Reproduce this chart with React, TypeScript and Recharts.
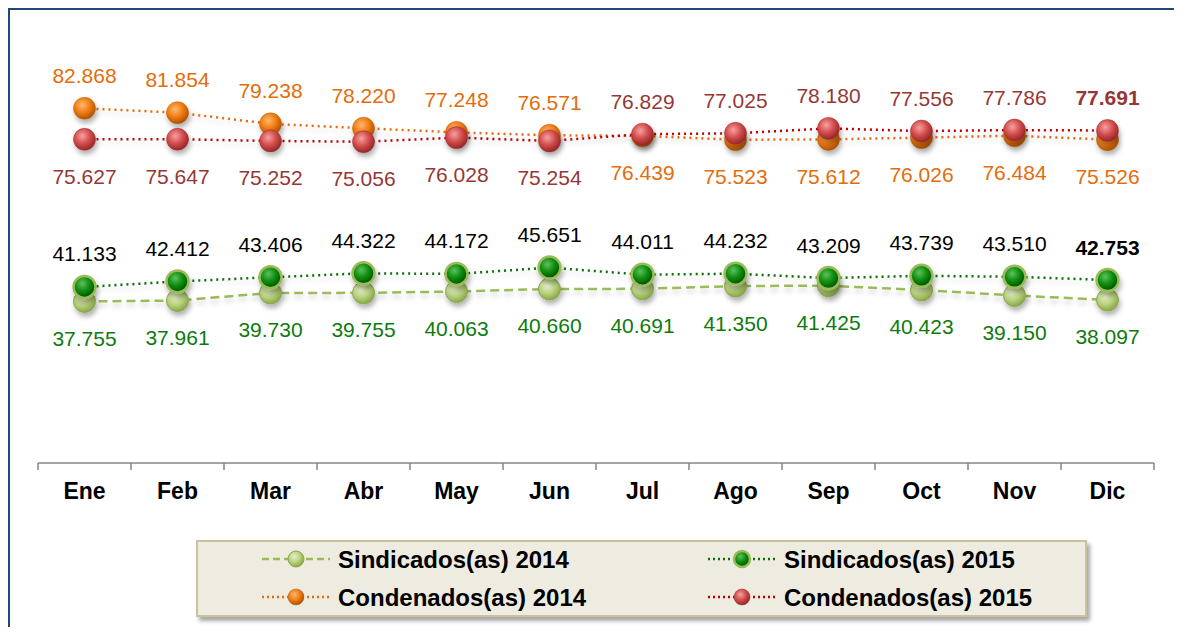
import { Customized, LabelList, Legend, Line, LineChart, XAxis, YAxis } from "recharts";

const months = ["Ene", "Feb", "Mar", "Abr", "May", "Jun", "Jul", "Ago", "Sep", "Oct", "Nov", "Dic"];
const sindicados2014 = [37.755, 37.961, 39.73, 39.755, 40.063, 40.66, 40.691, 41.35, 41.425, 40.423, 39.15, 38.097];
const sindicados2015 = [41.133, 42.412, 43.406, 44.322, 44.172, 45.651, 44.011, 44.232, 43.209, 43.739, 43.51, 42.753];
const condenados2014 = [82.868, 81.854, 79.238, 78.22, 77.248, 76.571, 76.439, 75.523, 75.612, 76.026, 76.484, 75.526];
const condenados2015 = [75.627, 75.647, 75.252, 75.056, 76.028, 75.254, 76.829, 77.025, 78.18, 77.556, 77.786, 77.691];

const data = months.map((m, i) => ({
  mes: m,
  s14: sindicados2014[i],
  s15: sindicados2015[i],
  c14: condenados2014[i],
  c15: condenados2015[i],
}));

const W = 1182;
const H = 635;
const PLOT_LEFT = 38;
const PLOT_RIGHT = 1154;
const HALF_STEP = (PLOT_RIGHT - PLOT_LEFT) / (months.length * 2);
const FONT = "Arial, 'Liberation Sans', sans-serif";

type Serie = {
  key: "s14" | "s15" | "c14" | "c15";
  name: string;
  values: number[];
  pair: number[];
  line: string;
  dash: string;
  width: number;
  grad: string;
  ring: string;
  ringWidth: number;
  label: string;
  boldLast: boolean;
};

// orden de dibujo = orden de la leyenda (los de 2015 quedan encima)
const series: Serie[] = [
  { key: "s14", name: "Sindicados(as) 2014", values: sindicados2014, pair: sindicados2015, line: "#9BBB59", dash: "9 5", width: 2.5, grad: "gLight", ring: "#8CA850", ringWidth: 1, label: "#0E7A0E", boldLast: false },
  { key: "s15", name: "Sindicados(as) 2015", values: sindicados2015, pair: sindicados2014, line: "#0A6E0A", dash: "2 4", width: 2.5, grad: "gDark", ring: "#9BBB59", ringWidth: 2.5, label: "#000000", boldLast: true },
  { key: "c14", name: "Condenados(as) 2014", values: condenados2014, pair: condenados2015, line: "#E46C0A", dash: "2 4", width: 2.5, grad: "gOrange", ring: "#B85A05", ringWidth: 0.5, label: "#E46C0A", boldLast: false },
  { key: "c15", name: "Condenados(as) 2015", values: condenados2015, pair: condenados2014, line: "#C00000", dash: "2 4", width: 2.5, grad: "gRed", ring: "#A02828", ringWidth: 0.5, label: "#953735", boldLast: true },
];

const gradients = [
  { id: "gLight", stops: ["#E6F1CC", "#B9D27F", "#8AA848"] },
  { id: "gDark", stops: ["#5CC25C", "#0B8A0B", "#005200"] },
  { id: "gOrange", stops: ["#FFB870", "#F07C12", "#B05204"] },
  { id: "gRed", stops: ["#F7A0A0", "#D24C4C", "#962828"] },
];

function sphereDot(s: Serie, r: number) {
  return (props: any) => (
    <circle
      key={`${s.key}-${props.index}`}
      cx={props.cx}
      cy={props.cy}
      r={r}
      fill={`url(#${s.grad})`}
      stroke={s.ring}
      strokeWidth={s.ringWidth}
      filter="url(#sombra)"
    />
  );
}

function valueLabel(s: Serie) {
  return (props: any) => {
    const { x, y, index } = props;
    const v = s.values[index];
    const above = v >= s.pair[index];
    const bold = s.boldLast && index === s.values.length - 1;
    return (
      <text
        x={x}
        y={above ? y - 33 : y + 37}
        textAnchor="middle"
        dominantBaseline="central"
        fontFamily={FONT}
        fontSize={21}
        fontWeight={bold ? 700 : 400}
        fill={s.label}
      >
        {v.toFixed(3)}
      </text>
    );
  };
}

function MonthTick(props: any) {
  const { x, y, payload, index } = props;
  return (
    <g>
      <line x1={x - HALF_STEP} y1={y} x2={x - HALF_STEP} y2={y + 7} stroke="#868686" strokeWidth={1.5} />
      {index === months.length - 1 && (
        <line x1={x + HALF_STEP} y1={y} x2={x + HALF_STEP} y2={y + 7} stroke="#868686" strokeWidth={1.5} />
      )}
      <text x={x} y={y + 28} textAnchor="middle" dominantBaseline="central" fontFamily={FONT} fontSize={23} fontWeight={700} fill="#000">
        {payload.value}
      </text>
    </g>
  );
}

// marco azul (borde izquierdo y superior); lo que cae fuera de los 8px del body no sale en la captura
function Marco() {
  return (
    <g>
      <rect x={8} y={8} width={2} height={H - 16} fill="#1F497D" />
      <rect x={8} y={8} width={W - 16} height={2} fill="#1F497D" />
    </g>
  );
}

function LegendBox() {
  const cols = [64, 510];
  const rows = [19, 57];
  return (
    <div
      style={{
        width: 891,
        height: 77,
        boxSizing: "border-box",
        background: "#EEECE1",
        border: "2px solid #C9C29E",
        boxShadow: "3px 4px 4px rgba(0,0,0,0.35)",
      }}
    >
      <svg width={887} height={73} style={{ display: "block" }}>
        <defs>
          {gradients.map((g) => (
            <radialGradient key={g.id} id={`${g.id}L`} cx="40%" cy="35%" r="65%">
              <stop offset="0%" stopColor={g.stops[0]} />
              <stop offset="55%" stopColor={g.stops[1]} />
              <stop offset="100%" stopColor={g.stops[2]} />
            </radialGradient>
          ))}
        </defs>
        {series.map((s, i) => {
          const x0 = cols[i % 2];
          const cy = rows[Math.floor(i / 2)] - 2;
          return (
            <g key={s.key}>
              <line x1={x0} y1={cy} x2={x0 + 68} y2={cy} stroke={s.line} strokeWidth={s.width} strokeDasharray={s.key === "s14" ? "7 4" : "2 3"} />
              <circle cx={x0 + 34} cy={cy} r={8} fill={`url(#${s.grad}L)`} stroke={s.ring} strokeWidth={s.ringWidth} />
              <text x={x0 + 76} y={cy} dominantBaseline="central" fontFamily={FONT} fontSize={24} fontWeight={700} fill="#000">
                {s.name}
              </text>
            </g>
          );
        })}
      </svg>
    </div>
  );
}

export default function App() {
  return (
    <div style={{ position: "relative", width: W, height: H, margin: -8, background: "#fff" }}>
      <LineChart width={W} height={H} data={data} margin={{ top: 35, right: W - PLOT_RIGHT, left: PLOT_LEFT, bottom: 142 }}>
        <defs>
          {gradients.map((g) => (
            <radialGradient key={g.id} id={g.id} cx="40%" cy="35%" r="65%">
              <stop offset="0%" stopColor={g.stops[0]} />
              <stop offset="55%" stopColor={g.stops[1]} />
              <stop offset="100%" stopColor={g.stops[2]} />
            </radialGradient>
          ))}
          <filter id="sombra" x="-50%" y="-50%" width="200%" height="220%">
            <feDropShadow dx="1.5" dy="4" stdDeviation="2.5" floodColor="#000" floodOpacity="0.3" />
          </filter>
          <filter id="sombraLinea" x="-5%" y="-50%" width="110%" height="300%">
            <feDropShadow dx="0" dy="4" stdDeviation="2.5" floodColor="#000" floodOpacity="0.18" />
          </filter>
        </defs>
        <Customized component={Marco} />
        <XAxis
          dataKey="mes"
          height={30}
          padding={{ left: HALF_STEP, right: HALF_STEP }}
          axisLine={{ stroke: "#868686", strokeWidth: 1.5 }}
          tickLine={false}
          tickSize={0}
          tickMargin={0}
          interval={0}
          tick={<MonthTick />}
        />
        <YAxis hide domain={[0, 100]} />
        {series.map((s) => (
          <Line
            key={s.key}
            dataKey={s.key}
            name={s.name}
            type="linear"
            stroke={s.line}
            strokeWidth={s.width}
            strokeDasharray={s.dash}
            filter="url(#sombraLinea)"
            dot={sphereDot(s, 11)}
            activeDot={false}
            isAnimationActive={false}
          >
            <LabelList dataKey={s.key} content={valueLabel(s)} />
          </Line>
        ))}
        <Legend
          layout="horizontal"
          align="center"
          verticalAlign="middle"
          wrapperStyle={{ left: 196, top: 540, width: 891, height: 77 }}
          content={() => <LegendBox />}
        />
      </LineChart>
    </div>
  );
}
